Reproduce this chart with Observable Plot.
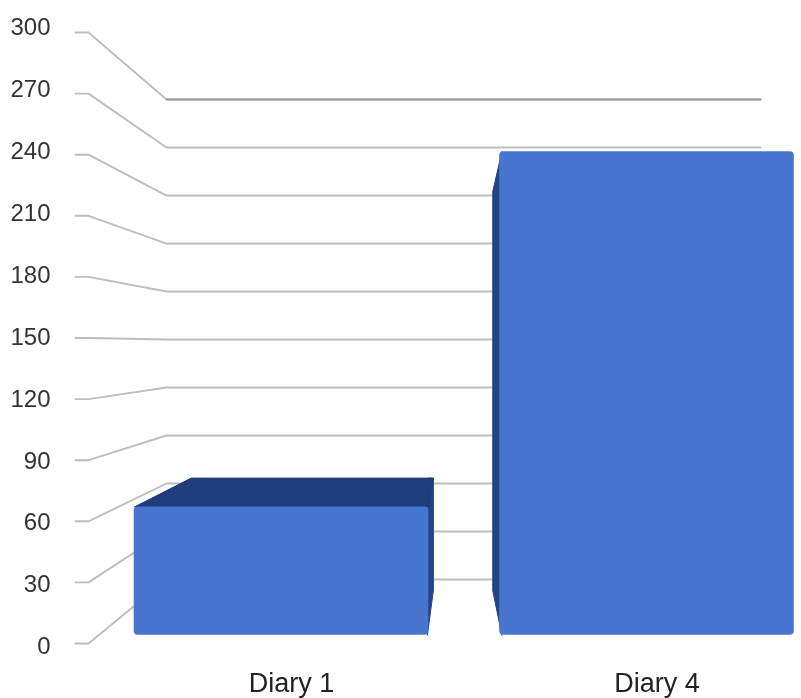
<!DOCTYPE html>
<html>
<head>
<meta charset="utf-8">
<style>
html,body{margin:0;padding:0;background:#fff}
svg{display:block}
</style>
<script src="https://cdn.jsdelivr.net/npm/d3@7"></script>
<script src="https://cdn.jsdelivr.net/npm/@observablehq/plot@0.6"></script>
</head>
<body>
<div id="chart"></div>
<script>
const categories = ["Diary 1", "Diary 4"];
const values = [67, 241.5];
const yTicks = [0, 30, 60, 90, 120, 150, 180, 210, 240, 270, 300];

// 3D projection of the chart box, in scale units
const halfWidth = 0.403, base = 4;
const tickStart = -0.5636, wallFront = -0.528, wallBack = -0.3146, wallRight = 1.3105;
const backValue = v => 31.42 + 0.7855 * v;
const labelValue = v => -1.47 + 1.0128 * v;

const gridPaths = yTicks.flatMap(v => [
  {v, x: tickStart, y: v},
  {v, x: wallFront, y: v},
  {v, x: wallBack, y: backValue(v)},
  {v, x: wallRight, y: backValue(v)}
]);
const topBackLine = gridPaths.filter(d => d.v === 300 && d.x >= wallBack);
const bars = values.map((v, i) => ({i, v, x1: i - halfWidth, x2: i + halfWidth}));
const b1 = bars[0], b4 = bars[1];
const topFace = [
  [b1.x1, b1.v], [b1.x1 + 0.156, b1.v + 14.2], [b1.x2 + 0.012, b1.v + 14.2], [b1.x2, b1.v]
].map(([x, y]) => ({x, y}));
const side1 = [
  [b1.x2, b1.v + 14.2], [b1.x2 + 0.0125, b1.v + 14.2], [b1.x2 + 0.0125, 26], [b1.x2 - 0.004, base], [b1.x2 - 0.004, b1.v]
].map(([x, y]) => ({x, y}));
const side4 = [
  [b4.x1 + 0.006, b4.v], [b4.x1 - 0.019, b4.v - 19.6], [b4.x1 - 0.019, 26], [b4.x1 + 0.006, base]
].map(([x, y]) => ({x, y}));

const plot = Plot.plot({
  width: 801,
  height: 698,
  marginLeft: 88,
  marginRight: 0,
  marginTop: 0,
  marginBottom: 0,
  style: {background: "#fff", fontFamily: "'Liberation Sans', Arial, sans-serif", filter: "blur(0.55px)"},
  x: {type: "linear", domain: [0, 1], range: [281, 646.5], axis: null},
  y: {domain: [0, 300], range: [643, 32], axis: null},
  marks: [
    Plot.line(gridPaths, {x: "x", y: "y", z: "v", stroke: "#bdbdbd", strokeWidth: 1.9, curve: "linear"}),
    Plot.line(topBackLine, {x: "x", y: "y", stroke: "#9c9c9c", strokeWidth: 1.9, curve: "linear"}),
    Plot.text(yTicks, {y: labelValue, frameAnchor: "left", dx: -38, textAnchor: "end", text: d => String(d), fill: "#333", fontSize: 24}),
    Plot.line(side1, {x: "x", y: "y", fill: "#234487", stroke: "#234487", strokeWidth: 1, curve: "linear"}),
    Plot.line(topFace, {x: "x", y: "y", fill: "#1f3d7c", stroke: "#1f3d7c", strokeWidth: 1, curve: "linear"}),
    Plot.line(side4, {x: "x", y: "y", fill: "#234487", stroke: "#234487", strokeWidth: 1, curve: "linear"}),
    Plot.rect(bars, {x1: "x1", x2: "x2", y1: () => base, y2: "v", fill: "#4775cf", r: 4}),
    Plot.text(categories, {x: (d, i) => i, frameAnchor: "bottom", dx: 10, dy: -15.6, lineAnchor: "middle", text: d => d, fill: "#222", fontSize: 27})
  ]
});
document.getElementById("chart").appendChild(plot);
</script>
</body>
</html>
